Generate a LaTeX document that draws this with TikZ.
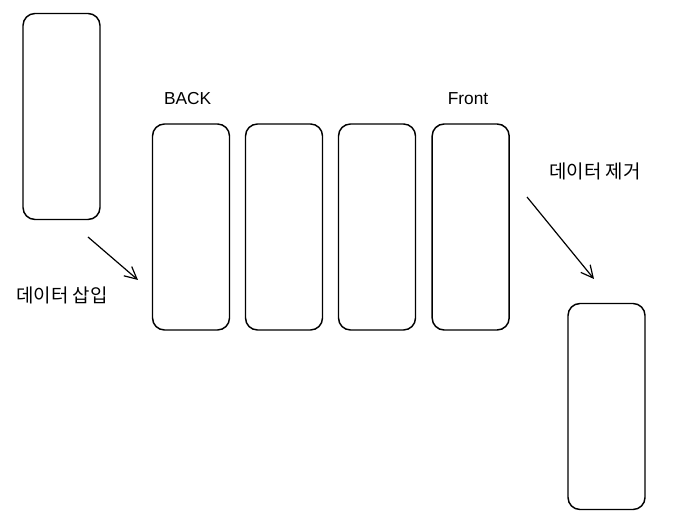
\documentclass[tikz,border=0pt]{standalone}
\usepackage{fontspec}
\setmainfont{Liberation Sans}
\newfontfamily\krfont{Noto Sans CJK KR}
\usetikzlibrary{positioning,arrows.meta}
\tikzset{
  slot/.style={draw,line width=1.1pt,rounded corners=9pt,minimum width=57.75pt,minimum height=154.5pt,inner sep=0pt,outer sep=0pt},
  qarrow/.style={-{Straight Barb[length=3.2mm,width=3.2mm]},line width=0.9pt},
  krlbl/.style={font=\krfont\fontsize{14.2}{16}\selectfont,inner sep=1pt},
  endlbl/.style={font=\fontsize{13}{15}\selectfont,inner sep=1pt},
}
\begin{document}
\begin{tikzpicture}[x=0.75pt,y=-0.75pt]
  \useasboundingbox (0,0) rectangle (684,530);
  % incoming element, the queue, outgoing element
  \node[slot] (inbox) at (61.5,116.5) {};
  \node[slot] (q1) at (191,227) {};
  \node[slot,right=12pt of q1] (q2) {};
  \node[slot,right=12pt of q2] (q3) {};
  \node[slot,right=12.5pt of q3] (q4) {};
  \node[slot] (outbox) at (606.5,406.5) {};
  \node[endlbl,above=13pt of q1,xshift=-2.5pt] (back) {BACK};
  \node[endlbl,above=13pt of q4,xshift=-2pt] (front) {Front};
  % enqueue / dequeue
  \coordinate (insA) at (88,237);
  \coordinate (insB) at (138,280);
  \draw[qarrow] (insA) -- (insB);
  \node[krlbl] (ins) at (62,295) {데이터 삽입};
  \coordinate (remA) at (527,197);
  \coordinate (remB) at (594,279);
  \draw[qarrow] (remA) -- (remB);
  \node[krlbl] (rem) at (595,171) {데이터 제거};
\end{tikzpicture}
\end{document}
